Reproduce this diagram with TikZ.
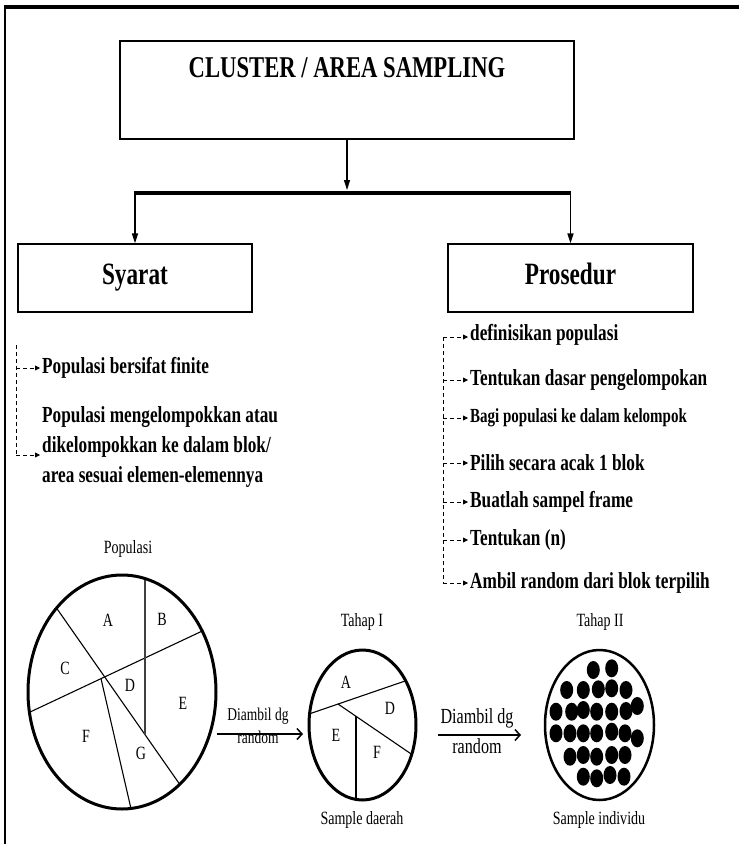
\documentclass[tikz,border=0pt]{standalone}
\usepackage{fontspec}
\setmainfont{Liberation Serif}[FakeStretch=0.75]
\usetikzlibrary{arrows.meta,shapes.geometric}
\begin{document}
\begin{tikzpicture}[x=1pt,y=-1pt,
  box/.style={draw, line width=1.3pt, inner sep=0},
  headtext/.style={font=\bfseries\fontsize{31}{31}\selectfont},
  item/.style={anchor=west, inner sep=0, font=\bfseries\fontsize{23}{30}\selectfont, align=left},
  smalltext/.style={inner sep=0, font=\fontsize{18.7}{20}\selectfont},
  lettertext/.style={inner sep=0, font=\fontsize{18.7}{20}\selectfont},
  conn/.style={line width=1.5pt, -{Triangle[length=10pt,width=6pt]}},
  dashconn/.style={dash pattern=on 4pt off 3pt, line width=0.8pt, -{Triangle[length=5pt,width=5pt]}, shorten >=2pt},
  dashline/.style={dash pattern=on 4pt off 3pt, line width=0.8pt},
  randarrow/.style={line width=1.5pt, -{Straight Barb[length=5pt,width=11pt]}},
  blob/.style={ellipse, draw, line width=3pt, inner sep=0},
  divider/.style={line width=1.1pt},
  dot/.style={fill=black},
]
\useasboundingbox (0,0) rectangle (739,844);

% frame lines
\draw[line width=3.5pt] (4,7) -- (739,7);
\draw[line width=2pt] (5,6) -- (5,844);

% title box
\node[box, minimum width=454pt, minimum height=98pt] (main) at (347,90) {};
\node[inner sep=0, font=\bfseries\fontsize{30.2}{31}\selectfont] (title) at (347,68) {CLUSTER / AREA SAMPLING};

% branching connector
\coordinate (barM) at (347,190);
\coordinate (barL) at (134.25,193);
\coordinate (barR) at (571.25,193);
\node[box, minimum width=234pt, minimum height=68pt, headtext, text depth=10pt, text height=22pt] (syarat) at (135,278) {Syarat};
\node[box, minimum width=245pt, minimum height=68pt, headtext, text depth=10pt, text height=22pt] (prosedur) at (570.5,278) {Prosedur};
\draw[conn] (main.south) -- (barM);
\draw[line width=4pt] (barL) -- (barR);
\draw[conn] (135,193) -- (syarat.north);
\draw[conn] (570.5,193) -- (prosedur.north);

% requirements
\coordinate (sTop) at (16,345);
\coordinate (sB1) at (16,368);
\coordinate (sBot) at (16,455);
\node[item] (s1) at (42,368) {Populasi bersifat finite};
\node[item] (s2) at (42,447) {Populasi mengelompokkan atau\\dikelompokkan ke dalam blok/\\area sesuai elemen-elemennya};
\draw[dashline] (sTop) -- (sBot);
\draw[dashconn] (sB1) -- (s1.west);
\draw[dashconn] (sBot) -- (42,455);

% procedure steps
\node[item] (p1) at (470,335) {definisikan populasi};
\node[item] (p2) at (470,380) {Tentukan dasar pengelompokan};
\node[item, font=\bfseries\fontsize{20}{22}\selectfont] (p3) at (470,418) {Bagi populasi ke dalam kelompok};
\node[item] (p4) at (470,463) {Pilih secara acak 1 blok};
\node[item] (p5) at (470,502) {Buatlah sampel frame};
\node[item] (p6) at (470,540) {Tentukan (n)};
\node[item] (p7) at (470,583) {Ambil random dari blok terpilih};
\coordinate (pTop) at (443,337);
\coordinate (pBot) at (443,583);
\draw[dashline] (pTop) -- (pBot);
\foreach \k/\yy in {1/337,2/380,3/418,4/463,5/502,6/540,7/583}{
  \coordinate (pb\k) at (443,\yy);
  \draw[dashconn] (pb\k) -- (p\k.west |- pb\k);
}

% population
\node[smalltext] (poplabel) at (128,549) {Populasi};
\begin{scope}
  \clip (122,692) ellipse (94 and 117);
  \draw[divider] (50,598.7) -- (190,799);
  \draw[divider] (18,717.7) -- (208,628.3);
  \draw[divider, black!75] (145,560) -- (145,734.7);
  \draw[divider] (101,678.6) -- (135,826);
\end{scope}
\node[blob, minimum width=188pt, minimum height=234pt] (pop) at (122,692) {};
\node[lettertext] at (108,620) {A};
\node[lettertext] at (162,619) {B};
\node[lettertext] at (65,668) {C};
\node[lettertext] at (130,685) {D};
\node[lettertext] at (183,703) {E};
\node[lettertext] at (86,736) {F};
\node[lettertext] at (141,753) {G};

% first random pick
\coordinate (r1s) at (217,734);
\coordinate (r1e) at (303,734);
\draw[randarrow] (r1s) -- (r1e);
\node[inner sep=0, font=\fontsize{18}{19}\selectfont] (r1a) at (258,716) {Diambil dg};
\node[inner sep=0, font=\fontsize{18}{19}\selectfont] (r1b) at (258,737) {random};

% stage one
\node[smalltext] (tahap1) at (362,622) {Tahap I};
\begin{scope}
  \clip (362.5,725) ellipse (53.5 and 75);
  \draw[divider] (300,717.1) -- (415,677.6);
  \draw[divider] (338,704) -- (420,760);
  \draw[divider] (356,716.1) -- (356,810);
\end{scope}
\node[blob, minimum width=107pt, minimum height=150pt] (area) at (362.5,725) {};
\node[lettertext] at (346,682) {A};
\node[lettertext] at (390,708) {D};
\node[lettertext] at (336,735) {E};
\node[lettertext] at (377,752) {F};
\node[smalltext] (daerah) at (362,820) {Sample daerah};

% second random pick
\coordinate (r2s) at (438,735);
\coordinate (r2e) at (521,735);
\draw[randarrow] (r2s) -- (r2e);
\node[inner sep=0, font=\fontsize{21.5}{23}\selectfont] (r2a) at (477,718) {Diambil dg};
\node[inner sep=0, font=\fontsize{21.5}{23}\selectfont] (r2b) at (477,746) {random};

% stage two
\node[smalltext] (tahap2) at (600,622) {Tahap II};
\node[blob, line width=2.5pt, minimum width=109pt, minimum height=150pt] (indiv) at (599.5,725) {};
\foreach \px/\py in {593.3/670,611.7/668.3,
  566.7/690,583.3/690,598.3/689.3,611.7/688.3,626/690,
  556/711.7,571.7/711.7,583.3/710,596.7/711.7,611.7/711.7,626/711,637.3/706,
  556/733.3,570/733.3,583.3/733.3,596.7/733.3,611.7/731.7,625/733.3,637.3/738.3,
  570/756.7,583.3/755,596.7/756.7,611.7/755,625/755,
  583.3/776.7,596.7/778.3,610/775,624/776.7}{
  \fill[dot] (\px,\py) ellipse (6.5 and 9);
}
\node[smalltext] (individu) at (599,820) {Sample individu};
\end{tikzpicture}
\end{document}
